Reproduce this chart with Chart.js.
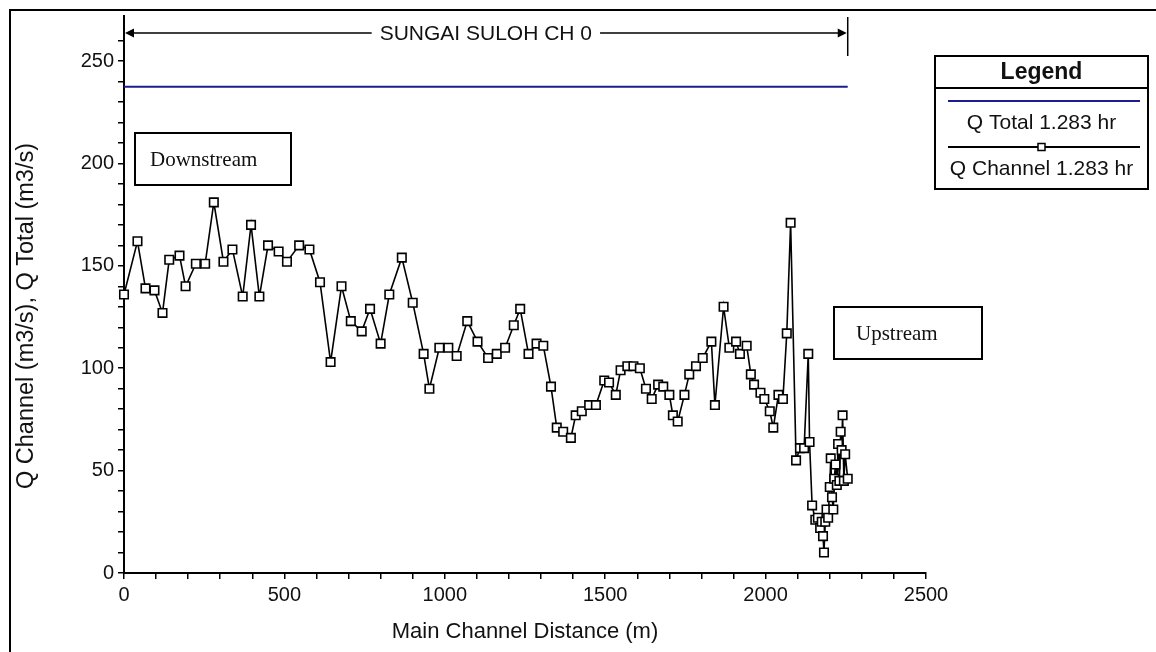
<!DOCTYPE html>
<html>
<head>
<meta charset="utf-8">
<script src="https://cdn.jsdelivr.net/npm/chart.js@4.4.1/dist/chart.umd.min.js"></script>
<style>
  html, body { margin: 0; padding: 0; background: #fff; }
</style>
</head>
<body>
<canvas id="grafico" width="1156" height="652"></canvas>
<script>
// Distancia a lo largo del cauce principal (m)
const distancia = [0, 42, 67, 95, 120, 141, 173, 192, 224, 253,
  280, 310, 338, 370, 396, 422, 449, 482, 508, 546,
  578, 611, 644, 678, 707, 741, 767, 800, 827, 866,
  900, 934, 952, 983, 1011, 1037, 1070, 1102, 1135, 1162,
  1188, 1215, 1235, 1261, 1286, 1307, 1331, 1349, 1369, 1393,
  1408, 1427, 1450, 1471, 1497, 1512, 1533, 1548, 1569, 1588,
  1608, 1627, 1645, 1665, 1681, 1700, 1711, 1726, 1747, 1762,
  1783, 1804, 1831, 1842, 1869, 1887, 1908, 1920, 1941, 1954,
  1964, 1984, 1996, 2013, 2024, 2040, 2054, 2066, 2078, 2095,
  2107, 2120, 2133, 2137, 2145, 2155, 2163, 2170, 2175, 2179,
  2182, 2186, 2190, 2195, 2200, 2203, 2207, 2211, 2214, 2218,
  2222, 2226, 2230, 2234, 2237, 2240, 2244, 2248, 2256];

// Q Channel (m3/s) en cada seccion
const qChannel = [136, 162, 139, 138, 127, 153, 155, 140, 151, 151,
  181, 152, 158, 135, 170, 135, 160, 157, 152, 160,
  158, 142, 103, 140, 123, 118, 129, 112, 136, 154,
  132, 107, 90, 110, 110, 106, 123, 113, 105, 107,
  110, 121, 129, 107, 112, 111, 91, 71, 69, 66,
  77, 79, 82, 82, 94, 93, 87, 99, 101, 101,
  100, 90, 85, 92, 91, 87, 77, 74, 87, 97,
  101, 105, 113, 82, 130, 110, 113, 107, 111, 97,
  92, 88, 85, 79, 71, 87, 85, 117, 171, 55,
  61, 61, 107, 64, 33, 26, 27, 22, 25, 18,
  10, 25, 31, 27, 42, 56, 37, 31, 46, 53,
  43, 63, 45, 69, 60, 77, 45, 58, 46];

// Q Total (m3/s): linea horizontal en todo el tramo
const qTotalDistancia = [0, 2256];
const qTotal = [237.5, 237.5];

// Etiquetas de los ejes
const etiquetasX = [0, 500, 1000, 1500, 2000, 2500];
const etiquetasY = [0, 50, 100, 150, 200, 250];

const nombreTramo = 'SUNGAI SULOH CH 0';
const nombreLeyenda = 'Legend';
const tituloX = 'Main Channel Distance (m)';
const tituloY = 'Q Channel (m3/s), Q Total (m3/s)';

const fuente = 'Arial, "Liberation Sans", sans-serif';
const fuenteSerif = '"Times New Roman", "Liberation Serif", serif';

// Dibuja el marco, la flecha del tramo, los recuadros y la leyenda
const decoraciones = {
  id: 'decoraciones',
  afterDraw(chart) {
    const ctx = chart.ctx;
    const sx = chart.scales.x;
    ctx.save();
    ctx.strokeStyle = '#000';
    ctx.fillStyle = '#111';

    // marco exterior
    ctx.lineWidth = 2;
    ctx.beginPath();
    ctx.moveTo(10, 652); ctx.lineTo(10, 10); ctx.lineTo(1156, 10);
    ctx.stroke();

    // titulo del eje Y
    ctx.save();
    ctx.translate(27, 316);
    ctx.rotate(-Math.PI / 2);
    ctx.font = '23.5px ' + fuente;
    ctx.textAlign = 'center';
    ctx.textBaseline = 'middle';
    ctx.fillText(tituloY, 0, 0);
    ctx.restore();

    // flecha del tramo
    const x0 = sx.getPixelForValue(distancia[0]);
    const x1 = sx.getPixelForValue(distancia[distancia.length - 1]);
    const ay = 33;
    const medio = (x0 + x1) / 2;
    ctx.font = '21px ' + fuente;
    ctx.textAlign = 'center';
    ctx.textBaseline = 'middle';
    const ancho = ctx.measureText(nombreTramo).width;
    ctx.fillText(nombreTramo, medio, ay + 1);
    ctx.lineWidth = 1.5;
    ctx.beginPath();
    ctx.moveTo(x0 + 4, ay); ctx.lineTo(medio - ancho / 2 - 8, ay);
    ctx.moveTo(medio + ancho / 2 + 8, ay); ctx.lineTo(x1 - 4, ay);
    ctx.moveTo(x1, 17); ctx.lineTo(x1, 56);
    ctx.stroke();
    ctx.fillStyle = '#000';
    ctx.beginPath();
    ctx.moveTo(x0 + 1, ay); ctx.lineTo(x0 + 10, ay - 4.5); ctx.lineTo(x0 + 10, ay + 4.5);
    ctx.closePath(); ctx.fill();
    ctx.beginPath();
    ctx.moveTo(x1 - 1, ay); ctx.lineTo(x1 - 10, ay - 4.5); ctx.lineTo(x1 - 10, ay + 4.5);
    ctx.closePath(); ctx.fill();

    // recuadros de texto
    ctx.lineWidth = 2;
    ctx.fillStyle = '#fff';
    ctx.fillRect(135, 133, 156, 52);
    ctx.strokeRect(135, 133, 156, 52);
    ctx.fillRect(834, 307, 148, 52);
    ctx.strokeRect(834, 307, 148, 52);
    ctx.fillStyle = '#111';
    ctx.font = '21px ' + fuenteSerif;
    ctx.textAlign = 'left';
    ctx.fillText('Downstream', 150, 160);
    ctx.fillText('Upstream', 856, 334);

    // leyenda
    const lx = 935, lr = 1148, ly = 56, lb = 189;
    ctx.fillStyle = '#fff';
    ctx.fillRect(lx, ly, lr - lx, lb - ly);
    ctx.lineWidth = 2;
    ctx.strokeRect(lx, ly, lr - lx, lb - ly);
    ctx.beginPath();
    ctx.moveTo(lx, 88); ctx.lineTo(lr, 88);
    ctx.stroke();
    const cx = (lx + lr) / 2;
    ctx.fillStyle = '#111';
    ctx.textAlign = 'center';
    ctx.font = 'bold 23px ' + fuente;
    ctx.fillText(nombreLeyenda, cx, 73);
    ctx.font = '21px ' + fuente;
    chart.data.datasets.forEach((ds, i) => {
      const yl = 101 + i * 46;
      ctx.strokeStyle = ds.borderColor;
      ctx.lineWidth = 2;
      ctx.beginPath();
      ctx.moveTo(948, yl); ctx.lineTo(1140, yl);
      ctx.stroke();
      if (ds.pointRadius > 0) {
        ctx.fillStyle = '#fff';
        ctx.strokeStyle = '#000';
        ctx.lineWidth = 1.5;
        ctx.fillRect(cx - 3.5, yl - 3.5, 7, 7);
        ctx.strokeRect(cx - 3.5, yl - 3.5, 7, 7);
      }
      ctx.fillStyle = '#111';
      ctx.fillText(ds.label, cx, yl + 22);
    });
    ctx.restore();
  }
};

const ctx = document.getElementById('grafico').getContext('2d');
new Chart(ctx, {
  type: 'line',
  data: {
    datasets: [{
      label: 'Q Total 1.283 hr',
      data: qTotalDistancia.map((d, i) => ({ x: d, y: qTotal[i] })),
      borderColor: '#1c1c90',
      borderWidth: 2,
      pointRadius: 0,
      clip: false
    }, {
      label: 'Q Channel 1.283 hr',
      data: distancia.map((d, i) => ({ x: d, y: qChannel[i] })),
      borderColor: '#000',
      borderWidth: 1.6,
      pointStyle: 'rect',
      pointRadius: 6,
      pointBackgroundColor: '#fff',
      pointBorderColor: '#000',
      pointBorderWidth: 1.6,
      clip: false
    }]
  },
  options: {
    responsive: false,
    animation: false,
    layout: { padding: { left: 0, right: 230, top: 13, bottom: 0 } },
    plugins: { legend: { display: false }, tooltip: { enabled: false } },
    scales: {
      x: {
        type: 'linear',
        min: 0,
        max: 2500,
        afterFit(s) { s.height = 79; },
        ticks: {
          stepSize: 100,
          autoSkip: false,
          maxRotation: 0,
          padding: 4,
          color: '#111',
          font: { family: fuente, size: 20 },
          callback: v => etiquetasX.includes(v) ? String(v) : ''
        },
        grid: { drawOnChartArea: false, tickLength: 6, color: '#000', lineWidth: 1.5 },
        border: { color: '#000', width: 2 },
        title: {
          display: true,
          text: tituloX,
          color: '#111',
          font: { family: fuente, size: 22 },
          padding: { top: 0, bottom: 7 }
        }
      },
      y: {
        min: 0,
        max: 272,
        afterFit(s) { s.width = 124; },
        afterBuildTicks(s) { s.ticks = s.ticks.filter(t => t.value % 10 === 0); },
        ticks: {
          stepSize: 10,
          autoSkip: false,
          padding: 4,
          color: '#111',
          font: { family: fuente, size: 20 },
          callback: v => etiquetasY.includes(v) ? String(v) : ''
        },
        grid: { drawOnChartArea: false, tickLength: 6, color: '#000', lineWidth: 1.5 },
        border: { color: '#000', width: 2 }
      }
    }
  },
  plugins: [decoraciones]
});
</script>
</body>
</html>
